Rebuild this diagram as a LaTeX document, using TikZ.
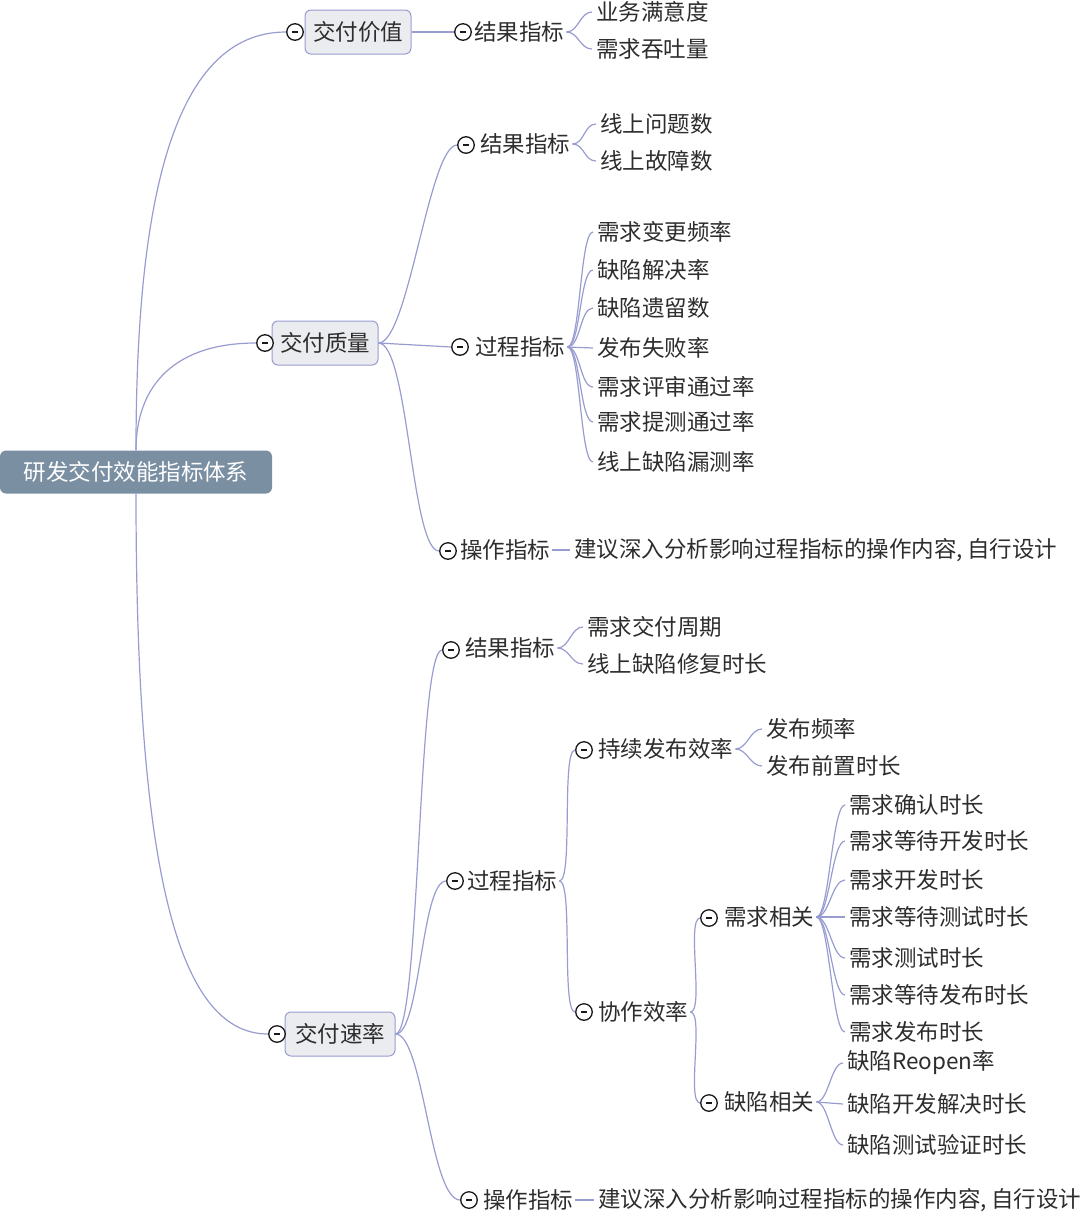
\documentclass[tikz,border=0pt]{standalone}
\usepackage{fontspec}
\setmainfont{Noto Sans CJK SC}
\definecolor{lav}{RGB}{152,156,208}
\definecolor{boxgray}{RGB}{235,236,240}
\definecolor{rootblue}{RGB}{123,143,163}
\definecolor{txt}{RGB}{45,45,45}

\begin{document}
\begin{tikzpicture}[x=1pt,y=-1pt,
  font=\fontsize{22.5}{26}\selectfont,text=txt,
  con/.style={draw=lav,line width=1.2pt},
  root/.style={fill=rootblue,text=white,rounded corners=6pt,minimum width=272pt,minimum height=43pt,inner sep=0pt},
  topic/.style={draw=lav,fill=boxgray,line width=1pt,rounded corners=6pt,minimum height=44pt,inner xsep=8pt,inner ysep=0pt},
  fold/.style={circle,draw=black!90,fill=white,line width=1.3pt,minimum size=16.5pt,inner sep=0pt,
    path picture={\draw[line width=1.2pt] ([xshift=-3pt]path picture bounding box.center) -- ([xshift=3pt]path picture bounding box.center);}},
  sub/.style={anchor=west,inner xsep=2pt,inner ysep=0pt},
  leaf/.style={anchor=west,inner xsep=4pt,inner ysep=0pt}]
\useasboundingbox (0,0) rectangle (1080,1232);

% root and main topics
\node[root] (root) at (136,472) {研发交付效能指标体系};
\node[topic] (T1) at (358,32) {交付价值};
\node[fold] (fT1) at (295,32) {};
\node[topic] (T2) at (325,343) {交付质量};
\node[fold] (fT2) at (265,343) {};
\node[topic,inner xsep=10pt] (T3) at (340,1034) {交付速率};
\node[fold] (fT3) at (277,1034) {};

\draw[con] (root.north) .. controls (136,210) and (170,32) .. (fT1.west);
\draw[con] (root.north) .. controls (136,385) and (175,343) .. (fT2.west);
\draw[con] (root.south) .. controls (136,860) and (175,1034) .. (fT3.west);

% 交付价值
\node[fold] (fA1) at (463,32) {};
\node[sub] (A1) at (472,32) {结果指标};
\node[leaf] (a11) at (592,12) {业务满意度};
\node[leaf] (a12) at (592,49) {需求吞吐量};
\draw[con] (T1.east) -- (fA1.west);
\draw[con] (A1.east) .. controls +(12,0) and +(-12,0) .. (a11.west);
\draw[con] (A1.east) .. controls +(12,0) and +(-12,0) .. (a12.west);

% 交付质量
\node[fold] (fB1) at (466,145) {};
\node[sub] (B1) at (478,144) {结果指标};
\node[leaf] (b11) at (596,124) {线上问题数};
\node[leaf] (b12) at (596,161) {线上故障数};
\draw[con] (T2.east) .. controls +(30,0) and +(-28,0) .. (fB1.west);
\draw[con] (B1.east) .. controls +(12,0) and +(-12,0) .. (b11.west);
\draw[con] (B1.east) .. controls +(12,0) and +(-12,0) .. (b12.west);

\node[fold] (fB2) at (460,347) {};
\node[sub] (B2) at (473,347) {过程指标};
\node[leaf] (b21) at (593,232) {需求变更频率};
\node[leaf] (b22) at (593,270) {缺陷解决率};
\node[leaf] (b23) at (593,308) {缺陷遗留数};
\node[leaf] (b24) at (593,348) {发布失败率};
\node[leaf] (b25) at (593,387) {需求评审通过率};
\node[leaf] (b26) at (593,422) {需求提测通过率};
\node[leaf] (b27) at (593,462) {线上缺陷漏测率};
\draw[con] (T2.east) -- (fB2.west);
\draw[con] (B2.east) .. controls +(13,0) and +(-13,0) .. (b21.west);
\draw[con] (B2.east) .. controls +(13,0) and +(-13,0) .. (b22.west);
\draw[con] (B2.east) .. controls +(13,0) and +(-13,0) .. (b23.west);
\draw[con] (B2.east) -- (b24.west);
\draw[con] (B2.east) .. controls +(13,0) and +(-13,0) .. (b25.west);
\draw[con] (B2.east) .. controls +(13,0) and +(-13,0) .. (b26.west);
\draw[con] (B2.east) .. controls +(13,0) and +(-13,0) .. (b27.west);

\node[fold] (fB3) at (448,551) {};
\node[sub] (B3) at (458,550) {操作指标};
\node[leaf] (b31) at (570,550) {建议深入分析影响过程指标的操作内容,\hspace{0.2em}自行设计};
\draw[con] (T2.east) .. controls +(30,0) and +(-28,0) .. (fB3.west);
\draw[con] (B3.east) -- (b31.west);

% 交付速率
\node[fold] (fC1) at (451,650) {};
\node[sub] (C1) at (463,648) {结果指标};
\node[leaf] (c11) at (583,627) {需求交付周期};
\node[leaf] (c12) at (583,664) {线上缺陷修复时长};
\draw[con] (T3.east) .. controls +(25,0) and +(-25,0) .. (fC1.west);
\draw[con] (C1.east) .. controls +(12,0) and +(-12,0) .. (c11.west);
\draw[con] (C1.east) .. controls +(12,0) and +(-12,0) .. (c12.west);

\node[fold] (fC2) at (455,881) {};
\node[sub] (C2) at (465,881) {过程指标};
\draw[con] (T3.east) .. controls +(25,0) and +(-25,0) .. (fC2.west);

\node[fold] (fD1) at (584,750) {};
\node[sub] (D1) at (596,749) {持续发布效率};
\node[leaf] (d11) at (762,729) {发布频率};
\node[leaf] (d12) at (762,766) {发布前置时长};
\draw[con] (C2.east) .. controls +(14,0) and +(-14,0) .. (fD1.west);
\draw[con] (D1.east) .. controls +(12,0) and +(-12,0) .. (d11.west);
\draw[con] (D1.east) .. controls +(12,0) and +(-12,0) .. (d12.west);

\node[fold] (fD2) at (584,1012) {};
\node[sub] (D2) at (596,1012) {协作效率};
\draw[con] (C2.east) .. controls +(14,0) and +(-14,0) .. (fD2.west);

\node[fold] (fE1) at (709,918) {};
\node[sub] (E1) at (722,917) {需求相关};
\node[leaf] (e11) at (845,805) {需求确认时长};
\node[leaf] (e12) at (845,841) {需求等待开发时长};
\node[leaf] (e13) at (845,880) {需求开发时长};
\node[leaf] (e14) at (845,917) {需求等待测试时长};
\node[leaf] (e15) at (845,958) {需求测试时长};
\node[leaf] (e16) at (845,995) {需求等待发布时长};
\node[leaf] (e17) at (845,1032) {需求发布时长};
\draw[con] (D2.east) .. controls +(14,0) and +(-14,0) .. (fE1.west);
\draw[con] (E1.east) .. controls +(13,0) and +(-13,0) .. (e11.west);
\draw[con] (E1.east) .. controls +(13,0) and +(-13,0) .. (e12.west);
\draw[con] (E1.east) .. controls +(13,0) and +(-13,0) .. (e13.west);
\draw[con] (E1.east) -- (e14.west);
\draw[con] (E1.east) .. controls +(13,0) and +(-13,0) .. (e15.west);
\draw[con] (E1.east) .. controls +(13,0) and +(-13,0) .. (e16.west);
\draw[con] (E1.east) .. controls +(13,0) and +(-13,0) .. (e17.west);

\node[fold] (fE2) at (709,1103) {};
\node[sub] (E2) at (722,1102) {缺陷相关};
\node[leaf] (e21) at (843,1063) {缺陷Reopen率};
\node[leaf] (e22) at (843,1104) {缺陷开发解决时长};
\node[leaf] (e23) at (843,1145) {缺陷测试验证时长};
\draw[con] (D2.east) .. controls +(14,0) and +(-14,0) .. (fE2.west);
\draw[con] (E2.east) .. controls +(12,0) and +(-12,0) .. (e21.west);
\draw[con] (E2.east) -- (e22.west);
\draw[con] (E2.east) .. controls +(12,0) and +(-12,0) .. (e23.west);

\node[fold] (fC3) at (469,1200) {};
\node[sub] (C3) at (481,1200) {操作指标};
\node[leaf] (c31) at (594,1200) {建议深入分析影响过程指标的操作内容,\hspace{0.2em}自行设计};
\draw[con] (T3.east) .. controls +(28,0) and +(-30,0) .. (fC3.west);
\draw[con] (C3.east) -- (c31.west);

\end{tikzpicture}
\end{document}
